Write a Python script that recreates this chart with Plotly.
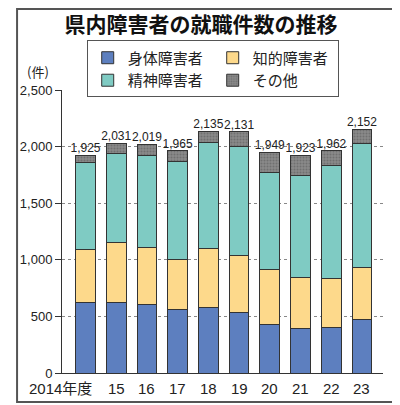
import plotly.graph_objects as go

years = ["2014年度", "15", "16", "17", "18", "19", "20", "21", "22", "23"]
physical = [626, 623, 602, 558, 582, 534, 425, 396, 405, 476]
intellectual = [464, 526, 511, 449, 514, 503, 488, 452, 428, 460]
mental = [773, 788, 810, 865, 944, 968, 856, 897, 1001, 1093]
other = [62, 94, 96, 93, 95, 126, 180, 178, 128, 123]
totals = [1925, 2031, 2019, 1965, 2135, 2131, 1949, 1923, 1962, 2152]

series = [
    ("身体障害者", physical, "#5d7fbf"),
    ("知的障害者", intellectual, "#fdd98b"),
    ("精神障害者", mental, "#7fcbc3"),
    ("その他", other, "#7b7b7b"),
]

NUM_FONT = "Liberation Sans Narrow, Liberation Sans, Noto Sans CJK JP, sans-serif"
JP_FONT = "Noto Sans CJK JP, sans-serif"

xs = list(range(len(years)))

fig = go.Figure()
for name, vals, color in series:
    marker = dict(color=color, line=dict(color="#333333", width=1))
    if name == "その他":
        # screened grey like the print original
        marker["pattern"] = dict(shape=".", fgcolor="#555555", bgcolor="#8a8a8a",
                                 size=3, solidity=0.4)
    fig.add_trace(go.Bar(x=xs, y=vals, name=name, marker=marker))

# totals above the bars
fig.add_trace(go.Scatter(
    x=xs, y=totals, mode="text",
    text=[f"{v:,}" for v in totals],
    textposition="top center",
    textfont=dict(family=NUM_FONT, size=12, color="#222222"),
    showlegend=False, hoverinfo="skip",
))

# x labels (first one hangs to the left of its bar)
for i, lab in enumerate(years):
    fig.add_annotation(x=i, y=0, yref="paper", text=lab, showarrow=False,
                       xanchor="right" if i == 0 else "center",
                       xshift=9 if i == 0 else 0,
                       yanchor="top", yshift=-5,
                       font=dict(family=NUM_FONT, size=15, color="#222222"))

fig.add_annotation(x=-0.076, y=1.067, xref="paper", yref="paper", text="(件)",
                   xanchor="center", yanchor="middle",
                   showarrow=False, font=dict(family=JP_FONT, size=13, color="#222222"))

# outer frame
fig.add_shape(type="rect", xref="paper", yref="paper",
              x0=-0.140, x1=1.045, y0=-0.1025, y1=1.286,
              line=dict(color="#555555", width=2), layer="below")

fig.update_layout(
    width=400, height=405,
    margin=dict(l=47, r=25, t=82, b=40),
    paper_bgcolor="white", plot_bgcolor="white",
    barmode="stack", bargap=0.36,
    title=dict(text="<b>県内障害者の就職件数の推移</b>", x=0.4825, xref="container",
               xanchor="center", y=0.958, yanchor="middle",
               font=dict(family=JP_FONT, size=21, color="#111111")),
    xaxis=dict(range=[-0.764, 9.685], showticklabels=False, ticks="",
               showgrid=False, zeroline=False,
               showline=True, linecolor="#333333", linewidth=1),
    yaxis=dict(range=[0, 2500], tickvals=[0, 500, 1000, 1500, 2000, 2500],
               tickformat=",", ticks="outside", ticklen=6, tickcolor="#333333",
               tickfont=dict(family=NUM_FONT, size=13, color="#222222"),
               showgrid=True, gridcolor="#888888", griddash="dot", gridwidth=1,
               zeroline=False, showline=True, linecolor="#333333", linewidth=1),
    legend=dict(orientation="h", x=0.077, y=1.175, xanchor="left", yanchor="top",
                bgcolor="white", bordercolor="#555555", borderwidth=1,
                entrywidth=80, traceorder="normal",
                font=dict(family=JP_FONT, size=15, color="#222222")),
    showlegend=True,
)

fig.write_html("out.html")
